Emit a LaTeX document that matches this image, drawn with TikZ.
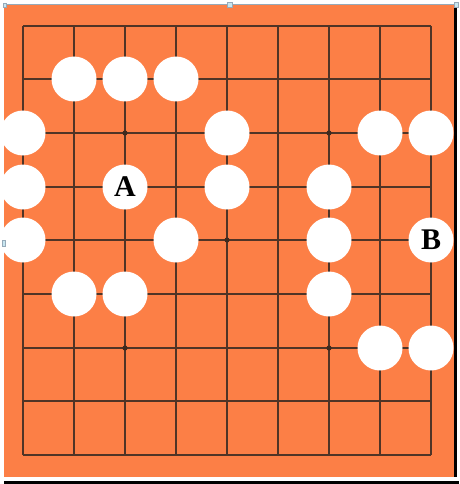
\documentclass[tikz,border=0pt]{standalone}
\usepackage{fontspec}
\setmainfont{Liberation Serif}
\definecolor{boardorange}{RGB}{252,127,70}
\definecolor{gridcol}{RGB}{80,52,38}
\definecolor{edgegray}{RGB}{150,170,185}
\definecolor{handlecol}{RGB}{200,230,240}
\tikzset{
  gridline/.style={draw=gridcol, line width=1.8pt},
  stone/.style={circle, fill=white, draw=none, inner sep=0pt, minimum size=45pt},
  label stone/.style={stone, font=\fontsize{30}{30}\selectfont\bfseries},
  starpt/.style={fill=gridcol!80!black},
  handle/.style={fill=handlecol, draw=edgegray, line width=0.6pt}
}
\begin{document}
\begin{tikzpicture}[x=1pt,y=-1pt]
\useasboundingbox (0,0) rectangle (459,484);
\fill[white] (0,0) rectangle (459,484);
% board
\fill[boardorange] (4,5.5) rectangle (453.5,476.7);
\draw[edgegray, line width=0.8pt] (4,4.8) -- (455,4.8);
\fill[black] (453.5,5) rectangle (457,477);
\fill[black] (4,481) rectangle (459,484);
% grid
\foreach \x in {23,74,125,176,227,278,329,380,431}
  \draw[gridline] (\x,26) -- (\x,455);
\foreach \y in {26,79,133,187,240,294,348,401,455}
  \draw[gridline] (23,\y) -- (431,\y);
% star points
\foreach \p in {(125,133),(329,133),(125,348),(329,348),(227,240)}
  \fill[starpt] \p circle (2.6);
% selection handles
\filldraw[handle] (3,3) rectangle (6,7);
\filldraw[handle] (227,2.5) rectangle (232,7);
\filldraw[handle] (454,2.5) rectangle (458,7);
% stones
\node[stone] (r1a) at (74,79) {};
\node[stone] (r1b) at (125,79) {};
\node[stone] (r1c) at (176,79) {};
\node[stone] (r2a) at (23,133) {};
\node[stone] (r2b) at (227,133) {};
\node[stone] (r2c) at (380,133) {};
\node[stone] (r2d) at (431,133) {};
\node[stone] (r3a) at (23,187) {};
\node[label stone] (A) at (125,187) {A};
\node[stone] (r3c) at (227,187) {};
\node[stone] (r3d) at (329,187) {};
\node[stone] (r4a) at (23,240) {};
\node[stone] (r4b) at (176,240) {};
\node[stone] (r4c) at (329,240) {};
\node[label stone] (B) at (431,240) {B};
\node[stone] (r5a) at (74,294) {};
\node[stone] (r5b) at (125,294) {};
\node[stone] (r5c) at (329,294) {};
\node[stone] (r6a) at (380,348) {};
\node[stone] (r6b) at (431,348) {};
\filldraw[handle] (2,240) rectangle (5,246);
\end{tikzpicture}
\end{document}
